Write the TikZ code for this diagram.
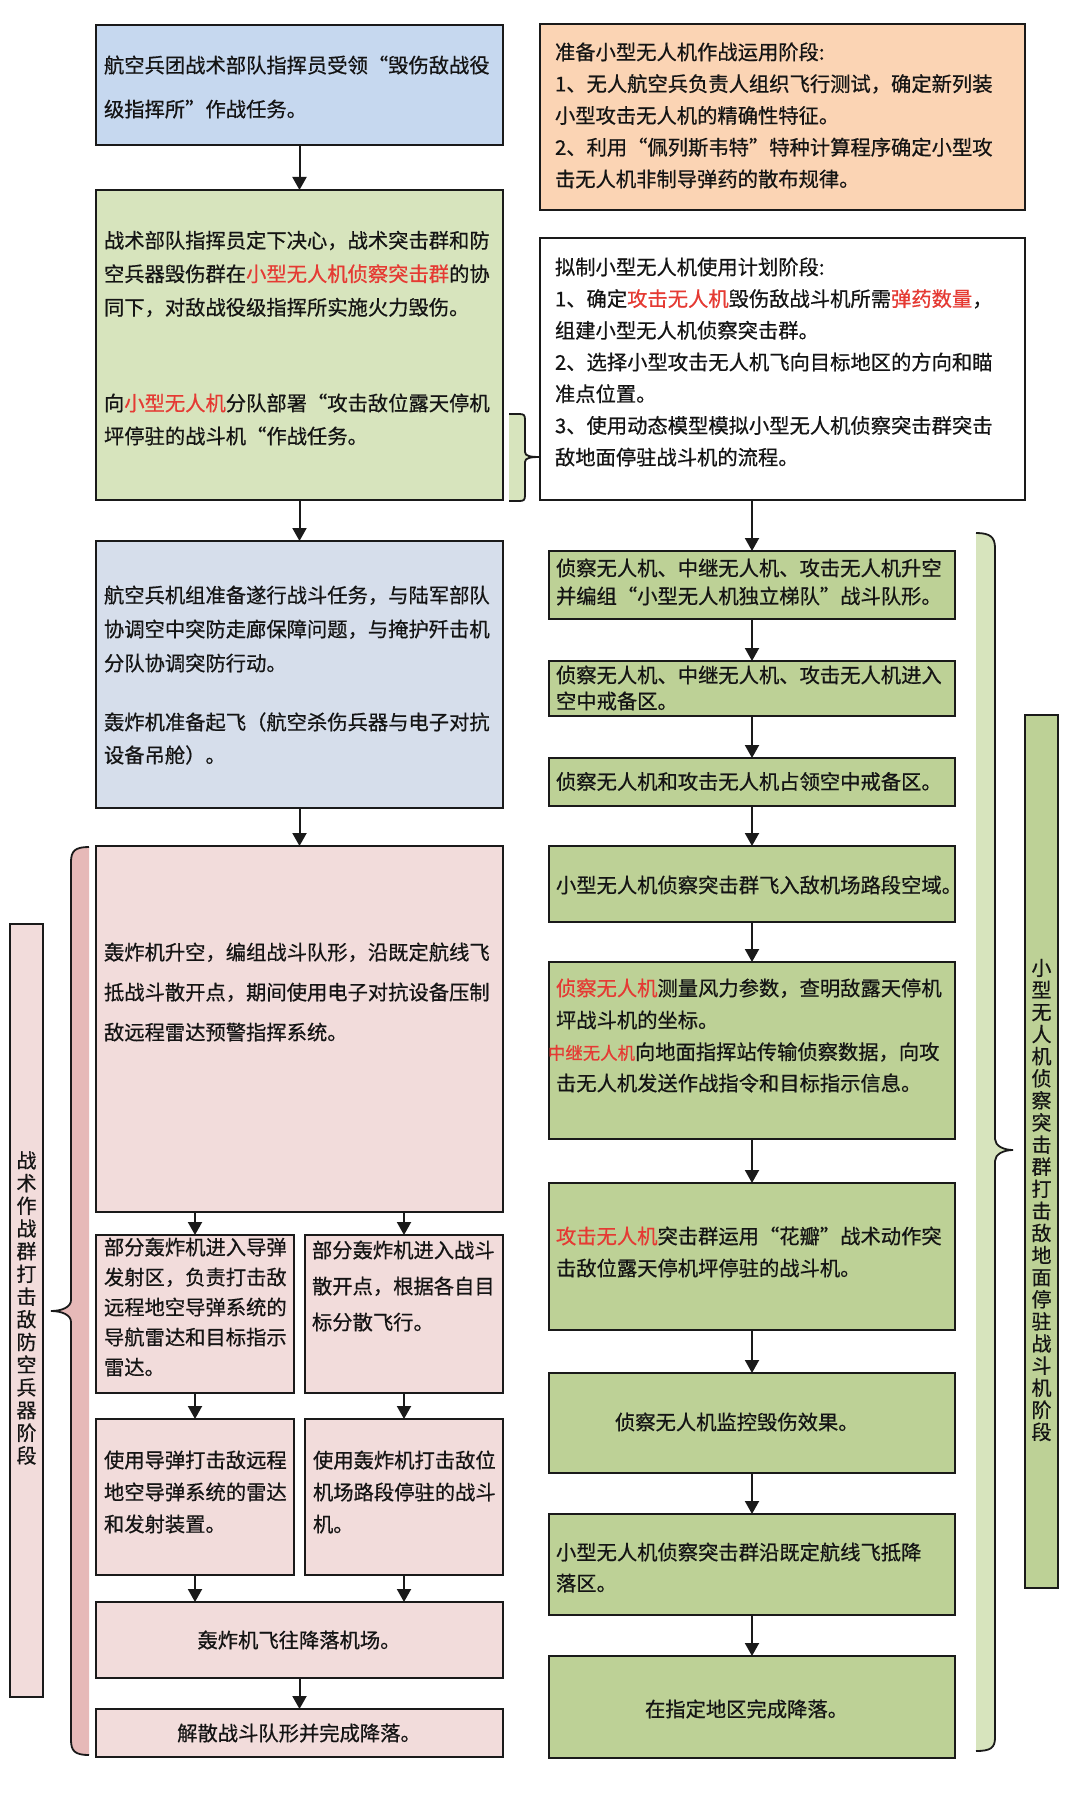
\documentclass[tikz,border=0pt]{standalone}
\usepackage{fontspec}
\newfontfamily\cjk[FakeBold=0.6]{Noto Sans CJK SC}
\usetikzlibrary{arrows.meta}
\definecolor{linec}{HTML}{1A1A1A}
\definecolor{textc}{HTML}{141414}
\definecolor{redt}{HTML}{E53A33}
\definecolor{blueA}{HTML}{C6D8EF}
\definecolor{blueB}{HTML}{D6DEEB}
\definecolor{greenL}{HTML}{D7E4BD}
\definecolor{greenD}{HTML}{BDD196}
\definecolor{pinkL}{HTML}{F2DCDB}
\definecolor{pinkD}{HTML}{E6B9B8}
\definecolor{orangeL}{HTML}{FBD4B4}
\tikzset{
  bx/.style={draw=linec, line width=2.2pt, inner sep=0pt, outer sep=0pt},
  arr/.style={draw=linec, line width=2pt, -{Triangle[width=14pt,length=13pt]}},
  tx/.style={inner sep=0pt, outer sep=0pt, align=left, text=textc, anchor=west},
  fs/.style 2 args={font=\cjk\fontsize{#1}{#2}\selectfont},
  brl/.style={draw=linec, line width=1.8pt},
}
\newcommand\mkbox[6]{\node[bx,#6,minimum width={#4-#2},minimum height={#5-#3}] (#1) at ({(#2+#4)/2},{(#3+#5)/2}) {};}
\begin{document}
\begin{tikzpicture}[x=1pt,y=-1pt]
\fill[white] (0,0) rectangle (1080,1798);
\useasboundingbox (0,0) rectangle (1080,1798);

% ---------- left column boxes ----------
\mkbox{b1}{96}{25}{503}{145}{fill=blueA}
\mkbox{b2}{96}{190}{503}{500}{fill=greenL}
\mkbox{b3}{96}{541}{503}{808}{fill=blueB}
\mkbox{b4}{96}{846}{503}{1212}{fill=pinkL}
\mkbox{b5a}{96}{1235}{294}{1393}{fill=pinkL}
\mkbox{b5b}{305}{1235}{503}{1393}{fill=pinkL}
\mkbox{b6a}{96}{1419}{294}{1575}{fill=pinkL}
\mkbox{b6b}{305}{1419}{503}{1575}{fill=pinkL}
\mkbox{b7}{96}{1602}{503}{1678}{fill=pinkL}
\mkbox{b8}{96}{1709}{503}{1757}{fill=pinkL}

% ---------- right column boxes ----------
\mkbox{r1}{540}{24}{1025}{210}{fill=orangeL}
\mkbox{r2}{540}{238}{1025}{500}{fill=white}
\mkbox{g1}{549}{551}{955}{619}{fill=greenD}
\mkbox{g2}{549}{661}{955}{716}{fill=greenD}
\mkbox{g3}{549}{758}{955}{806}{fill=greenD}
\mkbox{g4}{549}{846}{955}{922}{fill=greenD}
\mkbox{g5}{549}{962}{955}{1139}{fill=greenD}
\mkbox{g6}{549}{1183}{955}{1330}{fill=greenD}
\mkbox{g7}{549}{1373}{955}{1473}{fill=greenD}
\mkbox{g8}{549}{1514}{955}{1615}{fill=greenD}
\mkbox{g9}{549}{1656}{955}{1758}{fill=greenD}

% ---------- side labels ----------
\mkbox{lab}{10}{924}{43}{1697}{fill=pinkL}
\mkbox{rab}{1025}{715}{1058}{1588}{fill=greenD}

% ---------- braces ----------
\fill[pinkD] (89,847) .. controls (75,847) and (71,851) .. (71,862) -- (71,1300) .. controls (71,1307) and (62,1311) .. (51,1311) .. controls (62,1311) and (71,1315) .. (71,1322) -- (71,1740) .. controls (71,1751) and (75,1755) .. (89,1755) -- cycle;
\draw[brl] (89,847) .. controls (75,847) and (71,851) .. (71,862) -- (71,1300) .. controls (71,1307) and (62,1311) .. (51,1311) .. controls (62,1311) and (71,1315) .. (71,1322) -- (71,1740) .. controls (71,1751) and (75,1755) .. (89,1755);

\fill[greenL] (976,533) .. controls (990,533) and (995,537) .. (995,548) -- (995,1139) .. controls (995,1146) and (1004,1150) .. (1013,1150) .. controls (1004,1150) and (995,1154) .. (995,1161) -- (995,1738) .. controls (995,1748) and (990,1751) .. (976,1751) -- cycle;
\draw[brl] (976,533) .. controls (990,533) and (995,537) .. (995,548) -- (995,1139) .. controls (995,1146) and (1004,1150) .. (1013,1150) .. controls (1004,1150) and (995,1154) .. (995,1161) -- (995,1738) .. controls (995,1748) and (990,1751) .. (976,1751);

\coordinate (mtip) at (r2.west |- 0,457);
\fill[greenL] (509,414) -- (519,414) .. controls (524,414) and (525,415) .. (525,420) -- (525,452) .. controls (525,456) and (530,457) .. (mtip) .. controls (530,457) and (525,458) .. (525,462) -- (525,495) .. controls (525,500) and (524,501) .. (519,501) -- (509,501) -- cycle;
\draw[brl] (509,414) -- (519,414) .. controls (524,414) and (525,415) .. (525,420) -- (525,452) .. controls (525,456) and (530,457) .. (mtip) .. controls (530,457) and (525,458) .. (525,462) -- (525,495) .. controls (525,500) and (524,501) .. (519,501) -- (509,501);

% ---------- arrows ----------
\draw[arr] (b1.south) -- (b2.north);
\draw[arr] (b2.south) -- (b3.north);
\draw[arr] (b3.south) -- (b4.north);
\draw[arr] (b4.south -| b5a.north) -- (b5a.north);
\draw[arr] (b4.south -| b5b.north) -- (b5b.north);
\draw[arr] (b5a.south) -- (b6a.north);
\draw[arr] (b5b.south) -- (b6b.north);
\draw[arr] (b6a.south) -- (b7.north -| b6a.south);
\draw[arr] (b6b.south) -- (b7.north -| b6b.south);
\draw[arr] (b7.south) -- (b8.north);
\draw[arr] (r2.south -| g1.north) -- (g1.north);
\draw[arr] (g1.south) -- (g2.north);
\draw[arr] (g2.south) -- (g3.north);
\draw[arr] (g3.south) -- (g4.north);
\draw[arr] (g4.south) -- (g5.north);
\draw[arr] (g5.south) -- (g6.north);
\draw[arr] (g6.south) -- (g7.north);
\draw[arr] (g7.south) -- (g8.north);
\draw[arr] (g8.south) -- (g9.north);

% ---------- left texts ----------
\node[tx,fs={20.3}{44}] (t1) at (104,87) {航空兵团战术部队指挥员受领“毁伤敌战役\\级指挥所”作战任务。};
\node[tx,fs={20.3}{33.5}] (t2a) at (104,274) {战术部队指挥员定下决心，战术突击群和防\\空兵器毁伤群在\textcolor{redt}{小型无人机侦察突击群}的协\\同下，对敌战役级指挥所实施火力毁伤。};
\node[tx,fs={20.3}{33}] (t2b) at (104,419.5) {向\textcolor{redt}{小型无人机}分队部署“攻击敌位露天停机\\坪停驻的战斗机“作战任务。};
\node[tx,fs={20.3}{34}] (t3a) at (104,629) {航空兵机组准备遂行战斗任务，与陆军部队\\协调空中突防走廊保障问题，与掩护歼击机\\分队协调突防行动。};
\node[tx,fs={20.3}{33}] (t3b) at (104,738.5) {轰炸机准备起飞（航空杀伤兵器与电子对抗\\设备吊舱）。};
\node[tx,fs={20.3}{40}] (t4) at (104,992) {轰炸机升空，编组战斗队形，沿既定航线飞\\抵战斗散开点，期间使用电子对抗设备压制\\敌远程雷达预警指挥系统。};
\node[tx,fs={20.3}{30}] (t5a) at (104,1307) {部分轰炸机进入导弹\\发射区，负责打击敌\\远程地空导弹系统的\\导航雷达和目标指示\\雷达。};
\node[tx,fs={20.3}{36}] (t5b) at (312,1286) {部分轰炸机进入战斗\\散开点，根据各自目\\标分散飞行。};
\node[tx,fs={20.3}{32}] (t6a) at (104,1492) {使用导弹打击敌远程\\地空导弹系统的雷达\\和发射装置。};
\node[tx,fs={20.3}{32}] (t6b) at (313,1492) {使用轰炸机打击敌位\\机场路段停驻的战斗\\机。};
\node[tx,fs={20.3}{30},anchor=center] (t7) at (299,1640) {轰炸机飞往降落机场。};
\node[tx,fs={20.3}{30},anchor=center] (t8) at (299,1733) {解散战斗队形并完成降落。};

% ---------- right texts ----------
\node[tx,fs={20.3}{31.75}] (tr1) at (555,115.4) {准备小型无人机作战运用阶段:\\1、无人航空兵负责人组织飞行测试，确定新列装\\小型攻击无人机的精确性特征。\\2、利用“佩列斯韦特”特种计算程序确定小型攻\\击无人机非制导弹药的散布规律。};
\node[tx,fs={20.3}{31.7}] (tr2) at (555,362) {拟制小型无人机使用计划阶段:\\1、确定\textcolor{redt}{攻击无人机}毁伤敌战斗机所需\textcolor{redt}{弹药数量}，\\组建小型无人机侦察突击群。\\2、选择小型攻击无人机飞向目标地区的方向和瞄\\准点位置。\\3、使用动态模型模拟小型无人机侦察突击群突击\\敌地面停驻战斗机的流程。};
\node[tx,fs={20.3}{28}] (tg1) at (556,582) {侦察无人机、中继无人机、攻击无人机升空\\并编组“小型无人机独立梯队”战斗队形。};
\node[tx,fs={20.3}{26}] (tg2) at (556,688) {侦察无人机、中继无人机、攻击无人机进入\\空中戒备区。};
\node[tx,fs={20.3}{26}] (tg3) at (556,781.5) {侦察无人机和攻击无人机占领空中戒备区。};
\node[tx,fs={20.3}{26}] (tg4) at (556,885) {小型无人机侦察突击群飞入敌机场路段空域。};
\node[tx,fs={20.3}{32}] (tg5a) at (556,1004) {\textcolor{redt}{侦察无人机}测量风力参数，查明敌露天停机\\坪战斗机的坐标。};
\node[tx,fs={20.3}{32}] (tg5b) at (548,1052) {\textcolor{redt}{\fontsize{17.4}{20}\selectfont 中继无人机}向地面指挥站传输侦察数据，向攻};
\node[tx,fs={20.3}{32}] (tg5c) at (556,1083) {击无人机发送作战指令和目标指示信息。};
\node[tx,fs={20.3}{32}] (tg6) at (556,1252) {\textcolor{redt}{攻击无人机}突击群运用“花瓣”战术动作突\\击敌位露天停机坪停驻的战斗机。};
\node[tx,fs={20.3}{30}] (tg7) at (615,1422) {侦察无人机监控毁伤效果。};
\node[tx,fs={20.3}{31}] (tg8) at (556,1567.5) {小型无人机侦察突击群沿既定航线飞抵降\\落区。};
\node[tx,fs={20.3}{30}] (tg9) at (645,1709) {在指定地区完成降落。};

% ---------- vertical labels ----------
\node[tx,fs={20}{22.7},align=center,anchor=center] (tlab) at (26.5,1308) {战\\术\\作\\战\\群\\打\\击\\敌\\防\\空\\兵\\器\\阶\\段};
\node[tx,fs={20}{22.1},align=center,anchor=center] (trab) at (1041.5,1200) {小\\型\\无\\人\\机\\侦\\察\\突\\击\\群\\打\\击\\敌\\地\\面\\停\\驻\\战\\斗\\机\\阶\\段};
\end{tikzpicture}
\end{document}
